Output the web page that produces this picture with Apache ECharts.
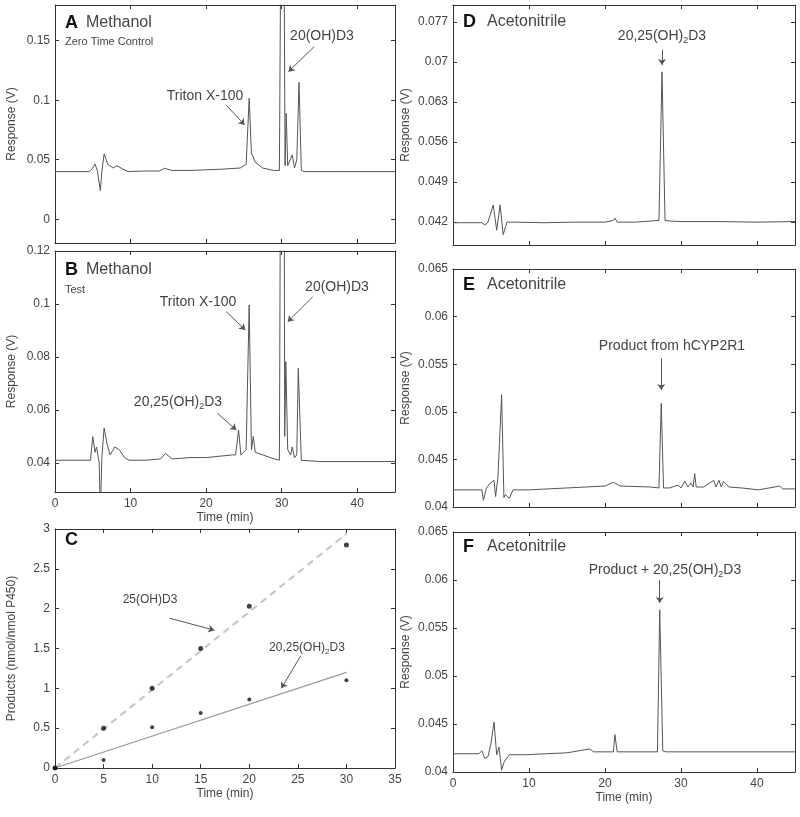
<!DOCTYPE html>
<html>
<head>
<meta charset="utf-8">
<script src="https://cdn.jsdelivr.net/npm/echarts@6/dist/echarts.min.js"></script>
<style>
html, body { margin: 0; padding: 0; background: #fff; }
#chart { width: 800px; height: 817px; }
</style>
</head>
<body>
<div id="chart"></div>
<script>
// A - methanol, zero time control
var timeA = [0, 4.6, 5.0, 5.3, 5.6, 5.8, 6.0, 6.2, 6.5, 7.0, 7.7, 8.2, 9.0, 9.7, 12, 13.8, 14.5, 15.4, 18, 20, 22, 24.5, 25.3, 25.7, 26.0, 26.2, 26.5, 27.5, 28.9, 29.7, 29.9, 30.3, 30.45, 30.6, 30.8, 31.0, 31.4, 31.7, 32.0, 32.3, 32.6, 33.0, 38, 45];
var respA = [0.040, 0.040, 0.043, 0.0464, 0.041, 0.040, 0.024, 0.040, 0.0548, 0.046, 0.043, 0.045, 0.042, 0.040, 0.0405, 0.0405, 0.0428, 0.041, 0.041, 0.0415, 0.042, 0.043, 0.046, 0.1016, 0.055, 0.053, 0.048, 0.043, 0.041, 0.041, 0.25, 0.25, 0.045, 0.089, 0.045, 0.044, 0.054, 0.043, 0.05, 0.115, 0.041, 0.040, 0.040, 0.040];

// B - methanol, test
var timeB = [0, 4.7, 5.0, 5.3, 5.5, 5.85, 6.0, 6.2, 6.5, 6.9, 7.3, 7.9, 8.5, 9.2, 9.8, 12, 14.0, 14.6, 15.5, 18, 20, 23.5, 23.9, 24.3, 24.6, 25.3, 25.7, 26.0, 26.25, 26.5, 27.5, 29.0, 29.7, 29.9, 30.3, 30.4, 30.55, 30.8, 31.2, 31.4, 31.7, 32.0, 32.2, 32.6, 35, 45];
var respB = [0.041, 0.041, 0.0499, 0.044, 0.046, 0.040, 0.02, 0.042, 0.0532, 0.047, 0.043, 0.046, 0.045, 0.042, 0.041, 0.041, 0.0415, 0.0436, 0.0415, 0.042, 0.042, 0.043, 0.043, 0.0524, 0.043, 0.045, 0.0996, 0.045, 0.050, 0.044, 0.043, 0.0415, 0.041, 0.2, 0.2, 0.05, 0.0782, 0.045, 0.043, 0.046, 0.042, 0.043, 0.0757, 0.041, 0.0405, 0.0405];

// C - product formation vs time
var timeC = [0, 5, 10, 15, 20, 30];
var prod25 = [0, 0.5, 1.0, 1.5, 2.03, 2.8];
var prod2025 = [0, 0.1, 0.51, 0.69, 0.86, 1.1];
var fitTime = [0, 30];
var fit25 = [0, 2.94];
var fit2025 = [0, 1.2];

// D - acetonitrile, 20,25(OH)2D3 standard
var timeD = [0, 3.8, 4.2, 4.6, 5.3, 5.75, 6.2, 6.6, 7.1, 8, 12, 16, 20, 21.1, 21.3, 21.6, 24, 27.1, 27.5, 27.9, 28.5, 30, 35, 40, 45];
var respD = [0.0419, 0.0419, 0.0415, 0.042, 0.045, 0.0406, 0.045, 0.0398, 0.042, 0.042, 0.0419, 0.042, 0.042, 0.0423, 0.0427, 0.042, 0.042, 0.0423, 0.0683, 0.0423, 0.0422, 0.0421, 0.0421, 0.0420, 0.0421];

// E - acetonitrile, product from hCYP2R1
var timeE = [0, 3.8, 4.0, 4.4, 4.9, 5.4, 5.6, 5.9, 6.4, 6.7, 6.9, 7.4, 7.9, 10, 15, 20, 21.1, 22, 26, 27.1, 27.4, 27.7, 28.5, 29.6, 30.0, 30.5, 30.9, 31.3, 31.6, 31.8, 32.0, 33, 34.3, 34.6, 35.0, 35.3, 35.6, 36.3, 38, 40.2, 43, 43.4, 45];
var respE = [0.0418, 0.0418, 0.0407, 0.042, 0.0425, 0.0428, 0.0411, 0.043, 0.0518, 0.041, 0.0413, 0.0409, 0.0418, 0.0418, 0.042, 0.0422, 0.0426, 0.0422, 0.0421, 0.042, 0.0509, 0.042, 0.042, 0.0423, 0.042, 0.0427, 0.0421, 0.0425, 0.0421, 0.0435, 0.0421, 0.0421, 0.0428, 0.0421, 0.0428, 0.0421, 0.0427, 0.0421, 0.042, 0.0418, 0.0422, 0.0419, 0.0419];

// F - acetonitrile, product + 20,25(OH)2D3
var timeF = [0, 3.4, 3.8, 4.2, 4.6, 5.0, 5.4, 5.75, 6.05, 6.4, 6.7, 7.4, 9.5, 15, 18.0, 18.5, 21.1, 21.3, 21.6, 26.9, 27.2, 27.6, 28, 33, 40, 45];
var respF = [0.0419, 0.0419, 0.0422, 0.0414, 0.0416, 0.043, 0.0452, 0.0418, 0.0426, 0.0402, 0.041, 0.0418, 0.0418, 0.042, 0.0424, 0.0421, 0.0421, 0.0439, 0.0421, 0.0421, 0.0569, 0.0422, 0.0421, 0.0421, 0.0421, 0.0421];

// tick labels
var yTicksA = [0, 0.05, 0.1, 0.15];
var yTicksB = [0.04, 0.06, 0.08, 0.1, 0.12];
var yTicksD = [0.042, 0.049, 0.056, 0.063, 0.07, 0.077];
var yTicksEF = [0.04, 0.045, 0.05, 0.055, 0.06, 0.065];
var xTicksTime = [0, 10, 20, 30, 40];
var xTicksC = [0, 5, 10, 15, 20, 25, 30, 35];
var yTicksC = [0, 0.5, 1, 1.5, 2, 2.5, 3];

var FONT = 'Liberation Sans, Arial, sans-serif';
var TXT = '#444';

function zip(xs, ys) {
    var out = [];
    for (var i = 0; i < xs.length; i++) out.push([xs[i], ys[i]]);
    return out;
}

var grids = [
    {left: 55, top: 5, width: 340, height: 238},    // A
    {left: 55, top: 251, width: 340, height: 241},  // B
    {left: 55, top: 529, width: 340, height: 239},  // C
    {left: 453, top: 5, width: 342, height: 240},   // D
    {left: 453, top: 269, width: 342, height: 238}, // E
    {left: 453, top: 532, width: 342, height: 240}  // F
];

// per panel: x range, x ticks, show x labels, y range, y ticks, y name
var panels = [
    {xmax: 45, xt: xTicksTime, xl: false, ymin: -0.02, ymax: 0.18, yt: yTicksA, yname: 'Response (V)'},
    {xmax: 45, xt: xTicksTime, xl: true, ymin: 0.029, ymax: 0.12, yt: yTicksB, yname: 'Response (V)'},
    {xmax: 35, xt: xTicksC, xl: true, ymin: 0, ymax: 3, yt: yTicksC, yname: 'Products (nmol/nmol P450)'},
    {xmax: 45, xt: xTicksTime, xl: false, ymin: 0.038, ymax: 0.08, yt: yTicksD, yname: 'Response (V)'},
    {xmax: 45, xt: xTicksTime, xl: false, ymin: 0.04, ymax: 0.065, yt: yTicksEF, yname: 'Response (V)'},
    {xmax: 45, xt: xTicksTime, xl: true, ymin: 0.04, ymax: 0.065, yt: yTicksEF, yname: 'Response (V)'}
];

var xAxes = [], yAxes = [];
var lineCol = '#333';
panels.forEach(function (p, i) {
    xAxes.push({
        type: 'value', gridIndex: i, min: 0, max: p.xmax, position: 'bottom',
        name: p.xl ? 'Time (min)' : '', nameLocation: 'middle', nameGap: 20,
        nameTextStyle: {color: TXT, fontSize: 12, fontFamily: FONT},
        axisLine: {show: true, onZero: false, lineStyle: {color: lineCol}},
        axisTick: {show: true, inside: true, length: 4, customValues: p.xt, lineStyle: {color: lineCol}},
        axisLabel: {show: p.xl, customValues: p.xt, color: TXT, fontSize: 12, fontFamily: FONT, margin: 6},
        splitLine: {show: false}
    });
    xAxes.push({
        type: 'value', gridIndex: i, min: 0, max: p.xmax, position: 'top',
        axisLine: {show: true, onZero: false, lineStyle: {color: lineCol}},
        axisTick: {show: true, inside: true, length: 4, customValues: p.xt, lineStyle: {color: lineCol}},
        axisLabel: {show: false},
        splitLine: {show: false}
    });
    yAxes.push({
        type: 'value', gridIndex: i, min: p.ymin, max: p.ymax, position: 'left',
        name: p.yname, nameLocation: 'middle', nameGap: i < 3 ? 37 : 41,
        nameTextStyle: {color: TXT, fontSize: 12, fontFamily: FONT},
        axisLine: {show: true, onZero: false, lineStyle: {color: lineCol}},
        axisTick: {show: true, inside: true, length: 4, customValues: p.yt, lineStyle: {color: lineCol}},
        axisLabel: {customValues: p.yt, color: TXT, fontSize: 12, fontFamily: FONT, margin: 5},
        splitLine: {show: false}
    });
    yAxes.push({
        type: 'value', gridIndex: i, min: p.ymin, max: p.ymax, position: 'right',
        axisLine: {show: true, onZero: false, lineStyle: {color: lineCol}},
        axisTick: {show: true, inside: true, length: 4, customValues: p.yt, lineStyle: {color: lineCol}},
        axisLabel: {show: false},
        splitLine: {show: false}
    });
});

function arrows(list) {
    return {
        silent: true, symbol: ['none', 'arrow'], symbolSize: 6,
        lineStyle: {color: '#555', width: 1, type: 'solid'},
        label: {show: false},
        data: list.map(function (a) { return [{coord: a[0]}, {coord: a[1]}]; })
    };
}

function trace(i, xs, ys, marks) {
    return {
        type: 'line', xAxisIndex: i * 2, yAxisIndex: i * 2, data: zip(xs, ys),
        showSymbol: false, symbol: 'none', clip: true,
        lineStyle: {color: '#555', width: 1}, markLine: marks
    };
}

var series = [
    trace(0, timeA, respA, arrows([
        [[22.65, 0.096], [25.1, 0.0792]],
        [[34.3, 0.145], [30.9, 0.124]]
    ])),
    trace(1, timeB, respB, arrows([
        [[22.65, 0.0971], [25.2, 0.0902]],
        [[34.1, 0.1027], [30.8, 0.0933]],
        [[21.5, 0.0587], [24.0, 0.0524]]
    ])),
    {
        type: 'line', xAxisIndex: 4, yAxisIndex: 4, data: zip(fitTime, fit25), symbol: 'none',
        lineStyle: {color: '#c4c4c4', width: 2, type: [7, 5]}
    },
    {
        type: 'line', xAxisIndex: 4, yAxisIndex: 4, data: zip(fitTime, fit2025), symbol: 'none',
        lineStyle: {color: '#999', width: 1.2},
        markLine: arrows([
            [[11.8, 1.88], [16.4, 1.73]],
            [[25.3, 1.41], [23.3, 1.0]]
        ])
    },
    {
        type: 'scatter', xAxisIndex: 4, yAxisIndex: 4, data: zip(timeC, prod25), z: 5,
        symbol: 'circle', symbolSize: 5, itemStyle: {color: '#111'}
    },
    {
        type: 'scatter', xAxisIndex: 4, yAxisIndex: 4, data: zip(timeC, prod2025), z: 5,
        symbol: 'circle', symbolSize: 4, itemStyle: {color: '#111'}
    },
    trace(3, timeD, respD, arrows([[[27.5, 0.0722], [27.5, 0.0695]]])),
    trace(4, timeE, respE, arrows([[[27.4, 0.0556], [27.4, 0.0523]]])),
    trace(5, timeF, respF, arrows([[[27.2, 0.0600], [27.2, 0.0576]]]))
];

var sub = {s: {fontSize: 9, fontFamily: FONT, fill: TXT, padding: [9, 0, 0, 0]}};

function txt(x, y, s, size, opts) {
    opts = opts || {};
    return {
        type: 'text', x: x, y: y, silent: true, z: 100,
        style: {
            text: s, fontSize: size, fontFamily: FONT, fill: opts.fill || TXT,
            fontWeight: opts.bold ? 'bold' : 'normal',
            align: opts.align || 'left', verticalAlign: 'middle', rich: opts.rich
        }
    };
}

var graphics = [
    txt(65, 23, 'A', 18, {bold: true, fill: '#111'}),
    txt(86, 23, 'Methanol', 16),
    txt(65, 42, 'Zero Time Control', 11),
    txt(205, 96, 'Triton X-100', 14, {align: 'center'}),
    txt(322, 36, '20(OH)D3', 14, {align: 'center'}),

    txt(65, 270, 'B', 18, {bold: true, fill: '#111'}),
    txt(86, 270, 'Methanol', 16),
    txt(65, 290, 'Test', 11),
    txt(198, 302, 'Triton X-100', 14, {align: 'center'}),
    txt(337, 287, '20(OH)D3', 14, {align: 'center'}),
    txt(178, 402, '20,25(OH){s|2}D3', 14, {align: 'center', rich: sub}),

    txt(65, 540, 'C', 18, {bold: true, fill: '#111'}),
    txt(150, 600, '25(OH)D3', 12, {align: 'center'}),
    txt(307, 648, '20,25(OH){s|2}D3', 12, {align: 'center', rich: {s: {fontSize: 8, fontFamily: FONT, fill: TXT, padding: [8, 0, 0, 0]}}}),

    txt(463, 22, 'D', 18, {bold: true, fill: '#111'}),
    txt(487, 22, 'Acetonitrile', 16),
    txt(662, 36, '20,25(OH){s|2}D3', 14, {align: 'center', rich: sub}),

    txt(463, 285, 'E', 18, {bold: true, fill: '#111'}),
    txt(487, 285, 'Acetonitrile', 16),
    txt(672, 346, 'Product from hCYP2R1', 14, {align: 'center'}),

    txt(463, 547, 'F', 18, {bold: true, fill: '#111'}),
    txt(487, 547, 'Acetonitrile', 16),
    txt(665, 570, 'Product + 20,25(OH){s|2}D3', 14, {align: 'center', rich: sub})
];

var chart = echarts.init(document.getElementById('chart'), null, {renderer: 'canvas'});
chart.setOption({
    animation: false,
    backgroundColor: '#fff',
    textStyle: {fontFamily: FONT},
    grid: grids,
    xAxis: xAxes,
    yAxis: yAxes,
    series: series,
    graphic: graphics
});
</script>
</body>
</html>
